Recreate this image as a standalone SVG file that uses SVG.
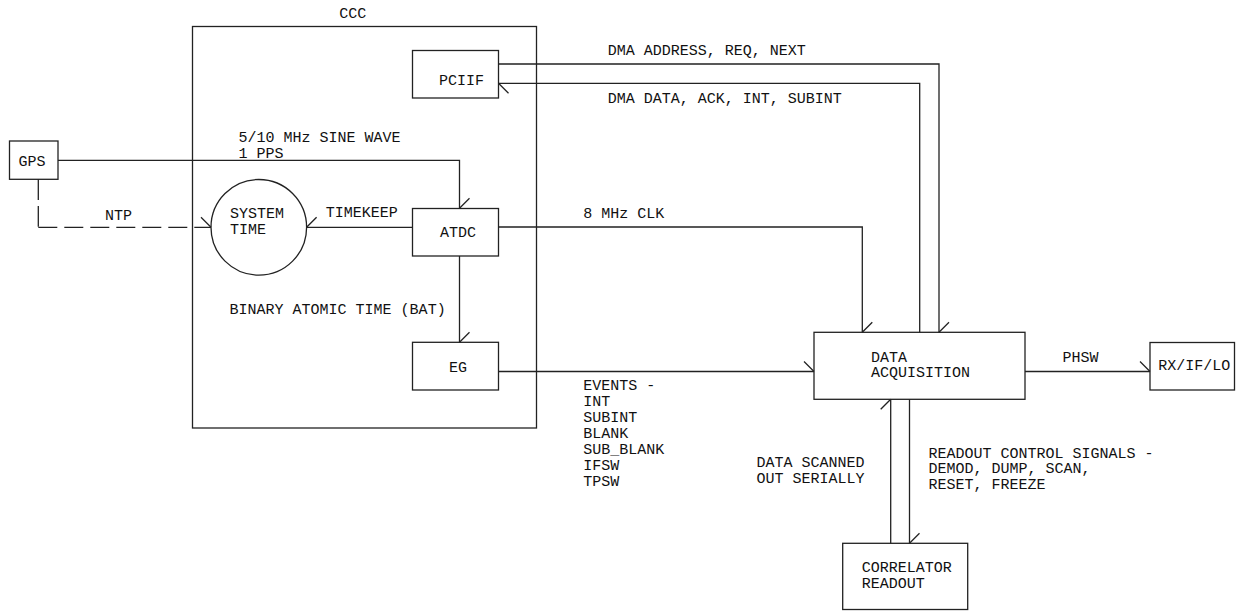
<svg xmlns="http://www.w3.org/2000/svg" width="1236" height="611" viewBox="0 0 1236 611">
<style>
  .box { fill: none; stroke: #222; stroke-width: 1.3; }
  .ln { fill: none; stroke: #222; stroke-width: 1.3; }
  .dash { fill: none; stroke: #222; stroke-width: 1.3; }
  text { font-family: "Liberation Mono", "DejaVu Sans Mono", monospace; font-size: 15px; fill: #111; }
</style>
<defs>
  <marker id="barb" viewBox="-15 -15 30 30" markerWidth="30" markerHeight="30" refX="0" refY="0" orient="auto" markerUnits="userSpaceOnUse" overflow="visible">
    <path d="M0,0 L-10,-10" stroke="#222" stroke-width="1.3" fill="none"/>
  </marker>
  <marker id="barb2" viewBox="-15 -15 30 30" markerWidth="30" markerHeight="30" refX="0" refY="0" orient="auto" markerUnits="userSpaceOnUse" overflow="visible">
    <path d="M0,0 L-10,10" stroke="#222" stroke-width="1.3" fill="none"/>
  </marker>
</defs>
<rect width="1236" height="611" fill="#fff"/>

<g id="ccc">
  <rect class="box" x="192.5" y="26.5" width="344" height="401.5"/>
  <text x="339.3" y="18">CCC</text>
</g>
<g id="pciif">
  <rect class="box" x="412.5" y="50.5" width="86" height="47.5"/>
  <text x="439" y="85">PCIIF</text>
</g>
<g id="gps">
  <rect class="box" x="9.5" y="141" width="48.5" height="38.3"/>
  <text x="18.6" y="166">GPS</text>
</g>
<g id="system-time">
  <circle class="box" cx="258.8" cy="227.3" r="47.8"/>
  <text x="230" y="218">SYSTEM</text>
  <text x="230" y="234">TIME</text>
</g>
<g id="atdc">
  <rect class="box" x="412.5" y="208.5" width="86" height="47.5"/>
  <text x="440" y="237">ATDC</text>
</g>
<g id="eg">
  <rect class="box" x="412.5" y="342.3" width="86" height="47.7"/>
  <text x="449" y="371.5">EG</text>
</g>
<g id="data-acquisition">
  <rect class="box" x="814" y="332.3" width="211" height="67"/>
  <text x="871" y="361.5">DATA</text>
  <text x="871" y="377">ACQUISITION</text>
</g>
<g id="rx-if-lo">
  <rect class="box" x="1150" y="342.5" width="84.5" height="47.5"/>
  <text x="1158.3" y="370">RX/IF/LO</text>
</g>
<g id="correlator-readout">
  <rect class="box" x="842.7" y="543.3" width="125" height="66.2"/>
  <text x="861.7" y="572">CORRELATOR</text>
  <text x="861.7" y="588">READOUT</text>
</g>

<g id="connectors">
  <path class="ln" d="M58 160.3 H459.5 V208.3" marker-end="url(#barb)"/>
  <path class="dash" d="M38.3 179.3 V227.3" stroke-dasharray="20.7 6"/>
  <path class="dash" d="M38.3 227.3 H211" stroke-dasharray="19 7" marker-end="url(#barb)"/>
  <path class="ln" d="M412.5 227.3 H306.6" marker-end="url(#barb2)"/>
  <path class="ln" d="M459.5 256 V342.3" marker-end="url(#barb)"/>
  <path class="ln" d="M498.5 227 H862.3 V332.3" marker-end="url(#barb)"/>
  <path class="ln" d="M498.5 64 H939 V332.3" marker-end="url(#barb)"/>
  <path class="ln" d="M919.7 332.3 V83.3 H498.5" marker-end="url(#barb)"/>
  <path class="ln" d="M498.5 371.5 H814" marker-end="url(#barb)"/>
  <path class="ln" d="M1025 371.5 H1150" marker-end="url(#barb)"/>
  <path class="ln" d="M890.7 543.3 V399.3" marker-end="url(#barb)"/>
  <path class="ln" d="M909.5 399.3 V543.3" marker-end="url(#barb)"/>

  <text x="238.6" y="141.5">5/10 MHz SINE WAVE</text>
  <text x="238.6" y="157.5">1 PPS</text>
  <text x="105" y="220">NTP</text>
  <text x="325.7" y="217">TIMEKEEP</text>
  <text x="229.6" y="314">BINARY ATOMIC TIME (BAT)</text>
  <text x="607.7" y="55">DMA ADDRESS, REQ, NEXT</text>
  <text x="607.7" y="103">DMA DATA, ACK, INT, SUBINT</text>
  <text x="583.3" y="217.5">8 MHz CLK</text>
  <text x="583.3" y="390">EVENTS -</text>
  <text x="583.3" y="406">INT</text>
  <text x="583.3" y="422">SUBINT</text>
  <text x="583.3" y="438">BLANK</text>
  <text x="583.3" y="454">SUB_BLANK</text>
  <text x="583.3" y="470">IFSW</text>
  <text x="583.3" y="486">TPSW</text>
  <text x="1062.4" y="361.5">PHSW</text>
  <text x="756.4" y="467">DATA SCANNED</text>
  <text x="756.4" y="482.5">OUT SERIALLY</text>
  <text x="928.4" y="457.5">READOUT CONTROL SIGNALS -</text>
  <text x="928.4" y="473">DEMOD, DUMP, SCAN,</text>
  <text x="928.4" y="488.5">RESET, FREEZE</text>
</g>
</svg>
